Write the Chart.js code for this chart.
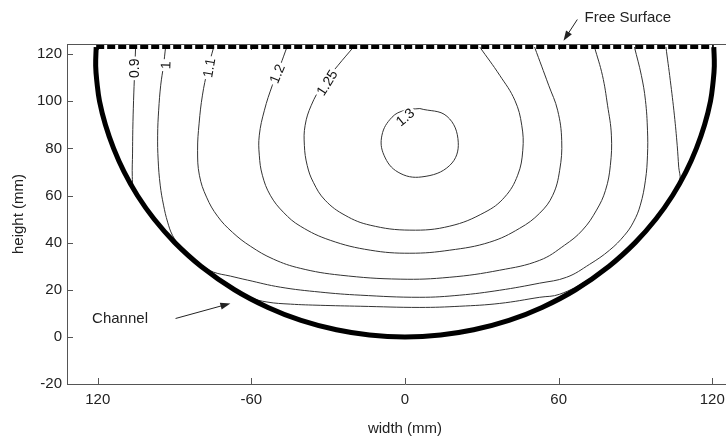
<!DOCTYPE html>
<html>
<head>
<meta charset="utf-8">
<script src="https://cdn.jsdelivr.net/npm/chart.js@4.4.1/dist/chart.umd.min.js"></script>
<style>
  html, body { margin: 0; padding: 0; background: #fff; overflow: hidden; }
  #wrap { width: 760px; height: 440px; }
</style>
</head>
<body>
<div id="wrap"><canvas id="flow" width="760" height="440"></canvas></div>
<script>
// axis ticks
const xTicks = [-120, -60, 0, 60, 120];
const xTickLabels = ['120', '-60', '0', '60', '120'];
const yTicks = [-20, 0, 20, 40, 60, 80, 100, 120];

// channel wall and free surface (mm)
const channel = [
  [-120.6, 123], [-120.8, 115], [-120.3, 108], [-119.3, 100], [-117.0, 90], [-113.8, 80],
  [-109.7, 70], [-104.5, 60], [-98.0, 50], [-89.9, 40], [-79.7, 30], [-66.6, 20],
  [-53.5, 12.5], [-40.6, 7], [-26.8, 3], [-13.9, 0.8], [0, 0],
  [13.9, 0.8], [26.8, 3], [40.6, 7], [53.5, 12.5], [66.6, 20], [79.7, 30],
  [89.9, 40], [98.0, 50], [104.5, 60], [109.7, 70], [113.8, 80], [117.0, 90],
  [119.3, 100], [120.3, 108], [120.8, 115], [120.6, 123]
];
const freeSurface = [[-120.6, 123], [120.6, 123]];

// velocity contours
const level09 = [
  [-105.2, 123], [-105.6, 112], [-106.0, 100.4], [-106.3, 88], [-106.4, 78], [-106.5, 68],
  [-106.0, 63.5], [-103.8, 59.6], [-97.8, 50.6], [-89.6, 40.5], [-79.5, 30.6], [-69.5, 22.8],
  [-60.0, 16.7], [-53.9, 14.8], [-44.8, 13.9], [-33.1, 13.4], [-17.5, 13.0], [5.8, 12.5],
  [21.4, 13.0], [37.0, 14.2], [52.6, 16.8], [60.4, 18.1], [71.5, 24.2], [81.5, 32.4],
  [91.5, 42.6], [99.2, 52.5], [104.2, 60.3], [107.3, 66.5], [106.9, 72], [106.3, 81.3],
  [105.2, 94.1], [103.6, 108.9], [101.9, 123]
];
const level10 = [
  [-93.5, 123], [-94.3, 115.3], [-95.4, 106.8], [-96.2, 96.2], [-96.6, 85.6], [-96.4, 75.0],
  [-95.6, 64.4], [-94.3, 55.9], [-92.7, 48.7], [-90.8, 43.1], [-88.0, 38.8], [-84.0, 34.7],
  [-79.0, 30.2], [-74.8, 27.5], [-68.2, 25.8], [-61.5, 24.1], [-48.7, 21.1], [-33.1, 19.0],
  [-17.5, 17.7], [5.8, 16.8], [21.4, 17.7], [37.0, 19.8], [52.6, 22.8], [63.1, 25.3],
  [72.1, 30.8], [79.9, 36.8], [85.7, 43.1], [89.2, 48.7], [91.9, 55.9], [93.9, 66.5],
  [94.7, 77.1], [94.7, 87.7], [93.9, 100.4], [92.3, 111.0], [89.6, 123]
];
const level11 = [
  [-74.7, 123], [-77.1, 113.3], [-79.1, 102.6], [-80.4, 90.7], [-81.0, 79.2], [-80.3, 68.6],
  [-77.5, 59.3], [-73.2, 51.2], [-67.4, 44.4], [-60.4, 38.5], [-51.4, 33.0], [-40.9, 29.1],
  [-25.3, 26.2], [-1.9, 24.5], [17.5, 25.3], [37.0, 28.3], [52.6, 32.5], [62.3, 38.9],
  [69.3, 45.3], [74.8, 53.8], [78.3, 62.2], [80.2, 72.8], [80.6, 85.6], [79.1, 98.3],
  [77.1, 111.0], [74.0, 123]
];
const level12 = [
  [-46.1, 123], [-48.7, 115.3], [-51.8, 106.8], [-54.9, 96.2], [-56.9, 85.6], [-56.9, 77.1],
  [-55.7, 68.6], [-52.6, 60.1], [-47.5, 52.9], [-40.9, 47.0], [-29.2, 41.0], [-13.6, 36.8],
  [1.9, 35.5], [17.5, 36.8], [33.1, 40.2], [44.8, 46.1], [52.6, 52.5], [57.7, 60.1],
  [60.4, 70.7], [61.2, 83.4], [59.6, 96.2], [56.1, 106.8], [50.6, 123]
];
const level125 = [
  [-20.1, 123], [-26.1, 115.3], [-32.3, 106.8], [-36.6, 98.3], [-39.0, 89.8], [-39.3, 81.3],
  [-38.2, 72.8], [-35.8, 65.6], [-31.2, 58.0], [-23.4, 51.6], [-13.6, 47.4], [1.9, 45.3],
  [17.5, 47.0], [31.2, 52.9], [38.9, 59.3], [44.0, 68.6], [46.0, 79.2], [45.6, 89.8],
  [42.9, 100.4], [37.0, 111.0], [29.2, 123]
];
const level13 = [
  [5.8, 96.9], [16.4, 93.6], [20.8, 82.6], [17.5, 72.8], [6.6, 67.9], [-2.7, 69.9],
  [-8.2, 77.1], [-9.0, 85.6], [-5.1, 93.2], [0, 96.2], [5.8, 96.9]
];

const contours = [level09, level10, level11, level12, level125, level13];
const contourLabels = ['0.9', '1', '1.1', '1.2', '1.25', '1.3'];

// where each inline label sits on its line: x, y (mm), angle (deg)
const labelAnchors = [
  [-105.6, 114.0, -90], [-93.5, 115.3, -88], [-76.6, 114.2, -80],
  [-50.0, 111.7, -68], [-30.5, 107.9, -58], [0.0, 93.3, -40]
];

const FONT = '"Liberation Sans", Arial, sans-serif';

const toXY = pts => pts.map(([x, y]) => ({ x, y }));

const datasets = [
  {
    data: toXY(freeSurface), showLine: true, pointRadius: 0,
    borderColor: '#000', borderWidth: 4, borderDash: [8, 3], order: 0
  },
  {
    data: toXY(channel), showLine: true, pointRadius: 0, tension: 0.4,
    borderColor: '#000', borderWidth: 5, order: 1
  }
].concat(contours.map(c => ({
  data: toXY(c), showLine: true, pointRadius: 0, tension: 0.4,
  borderColor: '#333', borderWidth: 1, order: 2
})));

function arrow(ctx, x1, y1, x2, y2) {
  const a = Math.atan2(y2 - y1, x2 - x1);
  ctx.beginPath();
  ctx.moveTo(x1, y1);
  ctx.lineTo(x2 - 8 * Math.cos(a), y2 - 8 * Math.sin(a));
  ctx.stroke();
  ctx.beginPath();
  ctx.moveTo(x2, y2);
  ctx.lineTo(x2 - 10 * Math.cos(a) + 3.5 * Math.sin(a), y2 - 10 * Math.sin(a) - 3.5 * Math.cos(a));
  ctx.lineTo(x2 - 10 * Math.cos(a) - 3.5 * Math.sin(a), y2 - 10 * Math.sin(a) + 3.5 * Math.cos(a));
  ctx.closePath();
  ctx.fill();
}

// top border and inward tick marks, drawn under the lines
const frame = {
  id: 'frame',
  beforeDatasetsDraw(chart) {
    const { ctx, chartArea: a, scales: { x, y } } = chart;
    ctx.save();
    ctx.strokeStyle = '#555';
    ctx.lineWidth = 1;
    ctx.beginPath();
    ctx.moveTo(a.left, a.top + 0.5);
    ctx.lineTo(a.right, a.top + 0.5);
    xTicks.forEach(v => {
      const px = Math.round(x.getPixelForValue(v)) + 0.5;
      ctx.moveTo(px, a.bottom); ctx.lineTo(px, a.bottom - 6);
      ctx.moveTo(px, a.top); ctx.lineTo(px, a.top + 6);
    });
    yTicks.forEach(v => {
      const py = Math.round(y.getPixelForValue(v)) + 0.5;
      ctx.moveTo(a.left, py); ctx.lineTo(a.left + 6, py);
    });
    ctx.stroke();
    ctx.restore();
  }
};

// contour values written inline, plus the two callouts
const notes = {
  id: 'notes',
  afterDraw(chart) {
    const { ctx, scales: { x, y } } = chart;
    ctx.save();
    ctx.font = '14px ' + FONT;
    ctx.textAlign = 'center';
    ctx.textBaseline = 'middle';
    contourLabels.forEach((t, i) => {
      const [lx, ly, deg] = labelAnchors[i];
      ctx.save();
      ctx.translate(x.getPixelForValue(lx), y.getPixelForValue(ly));
      ctx.rotate(deg * Math.PI / 180);
      const w = ctx.measureText(t).width;
      ctx.fillStyle = '#fff';
      ctx.fillRect(-w / 2 - 2, -6, w + 4, 12);
      ctx.fillStyle = '#111';
      ctx.fillText(t, 0, 1);
      ctx.restore();
    });

    ctx.font = '15px ' + FONT;
    ctx.textAlign = 'left';
    ctx.fillStyle = '#222';
    ctx.strokeStyle = '#222';
    ctx.lineWidth = 1;
    ctx.fillText('Free Surface', x.getPixelForValue(70.1), y.getPixelForValue(135.6));
    arrow(ctx, x.getPixelForValue(67.3), y.getPixelForValue(134.7),
      x.getPixelForValue(61.9), y.getPixelForValue(125.7));
    ctx.fillText('Channel', x.getPixelForValue(-122.2), y.getPixelForValue(7.8));
    arrow(ctx, x.getPixelForValue(-89.6), y.getPixelForValue(7.8),
      x.getPixelForValue(-68.2), y.getPixelForValue(14.2));
    ctx.restore();
  }
};

new Chart(document.getElementById('flow'), {
  type: 'scatter',
  data: { datasets },
  options: {
    responsive: false,
    animation: false,
    layout: { padding: { top: 44, right: 17, left: 0, bottom: 0 } },
    plugins: { legend: { display: false }, tooltip: { enabled: false } },
    scales: {
      x: {
        type: 'linear', min: -132, max: 132,
        afterBuildTicks: s => { s.ticks = xTicks.map(v => ({ value: v })); },
        afterFit: s => { s.height = 56; },
        grid: { display: false, drawTicks: false },
        border: { display: true, color: '#555', width: 1 },
        ticks: {
          padding: 7, color: '#222', font: { family: FONT, size: 15 },
          callback: v => xTickLabels[xTicks.indexOf(v)]
        },
        title: { display: true, text: 'width (mm)', color: '#222',
          font: { family: FONT, size: 15 }, padding: { top: 0, bottom: 2 } }
      },
      y: {
        type: 'linear', min: -20, max: 124.3,
        afterBuildTicks: s => { s.ticks = yTicks.map(v => ({ value: v })); },
        afterFit: s => { s.width = 67; },
        grid: { display: false, drawTicks: false },
        border: { display: true, color: '#555', width: 1 },
        ticks: { padding: 5, color: '#222', font: { family: FONT, size: 15 } },
        title: { display: true, text: 'height (mm)', color: '#222',
          font: { family: FONT, size: 15 }, padding: { top: 10, bottom: 0 } }
      }
    }
  },
  plugins: [frame, notes]
});
</script>
</body>
</html>
